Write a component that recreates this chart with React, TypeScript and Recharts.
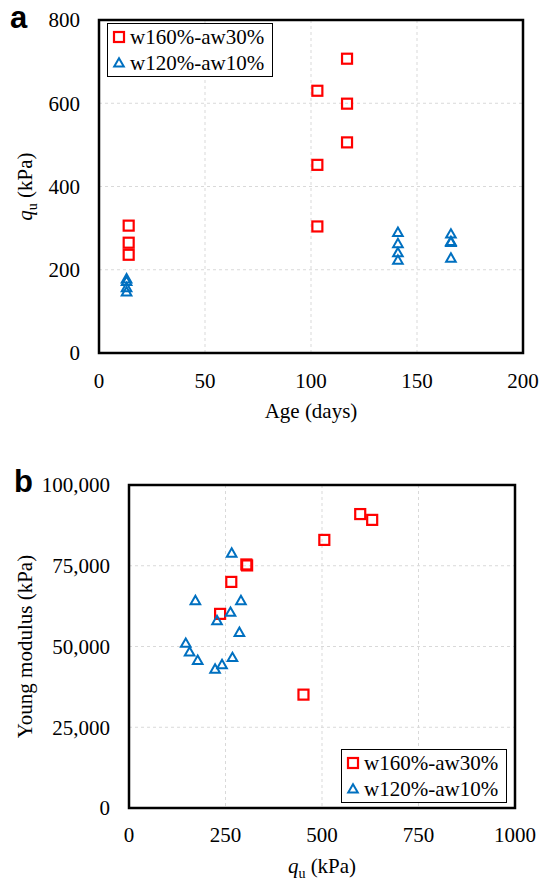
import { ScatterChart, Scatter, XAxis, YAxis, CartesianGrid, ReferenceArea, Legend, Label } from 'recharts';

const RED = '#ff0000';
const BLUE = '#0070c0';
const FONT = '"Liberation Serif", "Times New Roman", Times, serif';
const serif = { fontFamily: FONT };

// (a) curing age vs unconfined compressive strength
const ageA160 = [14, 14, 14, 103, 103, 103, 117, 117, 117];
const quA160 = [306, 265, 236, 630, 452, 304, 707, 599, 506];
const ageA120 = [13, 13, 13, 13, 141, 141, 141, 141, 166, 166, 166, 166];
const quA120 = [178, 172, 157, 147, 290, 263, 241, 223, 286, 268, 266, 228];

const ageTicks = [0, 50, 100, 150, 200];
const quTicksA = [0, 200, 400, 600, 800];

// (b) q_u vs Young modulus
const quB160 = [599, 630, 506, 306, 304, 265, 236, 452];
const eB160 = [91000, 89200, 83000, 75100, 75400, 70000, 60100, 35100];
const quB120 = [266, 172, 290, 263, 228, 286, 147, 157, 178, 223, 241, 268];
const eB120 = [78900, 64200, 64200, 60600, 58000, 54400, 51000, 48300, 45700, 43000, 44400, 46600];

const quTicksB = [0, 250, 500, 750, 1000];
const eTicks = [0, 25000, 50000, 75000, 100000];

const seriesNames = ['w160%-aw30%', 'w120%-aw10%'];

const toPoints = (xs: number[], ys: number[]) => xs.map((x, i) => ({ x, y: ys[i] }));

const XTick = (props: any) => (
  <text className="serif-text" x={props.x} y={props.y} dy="0.71em" textAnchor="middle" fill="#000" fontSize={21} style={serif}>
    {String(props.payload.value)}
  </text>
);

// modulus ticks use thousands separators
const YTick = (props: any) => (
  <text className="serif-text" x={props.x} y={props.y} dy="0.355em" textAnchor="end" fill="#000" fontSize={21} style={serif}>
    {props.payload.value.toLocaleString('en-US')}
  </text>
);

const Square = (props: any) => {
  const { cx, cy } = props;
  return <rect x={cx - 5} y={cy - 5} width={10} height={10} fill="none" stroke={RED} strokeWidth={2.2} />;
};

const Triangle = (props: any) => {
  const { cx, cy } = props;
  return (
    <polygon
      points={`${cx},${cy - 4.8} ${cx + 4.8},${cy + 3.6} ${cx - 4.8},${cy + 3.6}`}
      fill="none"
      stroke={BLUE}
      strokeWidth={2}
    />
  );
};

const BoxLegend = () => (
  <div style={{ border: '1px solid #000', background: '#fff', fontFamily: FONT, fontSize: 21, color: '#000', paddingRight: 8 }}>
    {seriesNames.map((name, i) => (
      <div key={name} style={{ display: 'flex', alignItems: 'center', height: 26 }}>
        <svg width={22} height={26} style={{ display: 'block' }}>
          {i === 0 ? <Square cx={11} cy={13} /> : <Triangle cx={11} cy={13} />}
        </svg>
        <span style={{ lineHeight: '26px', whiteSpace: 'nowrap' }}>{name}</span>
      </div>
    ))}
  </div>
);

// axis titles; the q_u one gets an italic q and a subscript u
const QuText = () => (
  <>
    <tspan fontStyle="italic">q</tspan>
    <tspan fontSize={14} dy={5}>u</tspan>
    <tspan dy={-5}> (kPa)</tspan>
  </>
);

const xTitle = (children: any, below: number) => (props: any) => {
  const vb = props.viewBox || {};
  return (
    <text className="serif-text" x={vb.x + vb.width / 2} y={vb.y + below + 7} textAnchor="middle" fill="#000" fontSize={21} style={serif}>
      {children}
    </text>
  );
};

const yTitle = (children: any, cx: number) => (props: any) => {
  const vb = props.viewBox || {};
  const cy = vb.y + vb.height / 2;
  return (
    <text className="serif-text" transform={`translate(${cx},${cy}) rotate(-90)`} x={0} y={7} textAnchor="middle" fill="#000" fontSize={21} style={serif}>
      {children}
    </text>
  );
};

const AgeChart = () => (
  <ScatterChart width={540} height={440} margin={{ top: 20, right: 17, left: 0, bottom: 0 }} style={serif}>
    <CartesianGrid stroke="#d9d9d9" strokeDasharray="3 3" />
    <XAxis
      type="number"
      dataKey="x"
      domain={[0, 200]}
      ticks={ageTicks}
      interval={0}
      axisLine={false}
      tickLine={false}
      tickSize={0}
      tickMargin={20}
      height={87}
      tick={XTick}
    >
      <Label content={xTitle('Age (days)', 58)} />
    </XAxis>
    <YAxis
      type="number"
      dataKey="y"
      domain={[0, 800]}
      ticks={quTicksA}
      interval={0}
      axisLine={false}
      tickLine={false}
      tickSize={0}
      tickMargin={19}
      width={99}
      tick={YTick}
    >
      <Label content={yTitle(<QuText />, 25)} />
    </YAxis>
    <ReferenceArea x1={0} x2={200} y1={0} y2={800} fill="none" stroke="#000" strokeWidth={2.5} ifOverflow="visible" />
    <Scatter name={seriesNames[0]} data={toPoints(ageA160, quA160)} shape={Square} isAnimationActive={false} />
    <Scatter name={seriesNames[1]} data={toPoints(ageA120, quA120)} shape={Triangle} isAnimationActive={false} />
    <Legend
      layout="horizontal"
      verticalAlign="middle"
      align="center"
      content={BoxLegend}
      wrapperStyle={{ left: 107, top: 23, width: 'auto' }}
    />
  </ScatterChart>
);

const ModulusChart = () => (
  <ScatterChart width={540} height={423} margin={{ top: 25, right: 25, left: 0, bottom: 0 }} style={serif}>
    <CartesianGrid stroke="#d9d9d9" strokeDasharray="3 3" />
    <XAxis
      type="number"
      dataKey="x"
      domain={[0, 1000]}
      ticks={quTicksB}
      interval={0}
      axisLine={false}
      tickLine={false}
      tickSize={0}
      tickMargin={19}
      height={75}
      tick={XTick}
    >
      <Label content={xTitle(<QuText />, 58)} />
    </XAxis>
    <YAxis
      type="number"
      dataKey="y"
      domain={[0, 100000]}
      ticks={eTicks}
      interval={0}
      axisLine={false}
      tickLine={false}
      tickSize={0}
      tickMargin={19}
      width={129}
      tick={YTick}
    >
      <Label content={yTitle('Young modulus (kPa)', 25)} />
    </YAxis>
    <ReferenceArea x1={0} x2={1000} y1={0} y2={100000} fill="none" stroke="#000" strokeWidth={2.5} ifOverflow="visible" />
    <Scatter name={seriesNames[0]} data={toPoints(quB160, eB160)} shape={Square} isAnimationActive={false} />
    <Scatter name={seriesNames[1]} data={toPoints(quB120, eB120)} shape={Triangle} isAnimationActive={false} />
    <Legend
      layout="horizontal"
      verticalAlign="middle"
      align="center"
      content={BoxLegend}
      wrapperStyle={{ left: 341, top: 289, width: 'auto' }}
    />
  </ScatterChart>
);

export default function App() {
  return (
    <div style={{ position: 'absolute', left: 0, top: 0, width: 540, height: 883, background: '#fff', fontFamily: FONT }}>
      <style>{`.serif-text, .serif-text tspan { font-family: "Liberation Serif", "Times New Roman", serif !important; }`}</style>
      <div style={{ position: 'absolute', left: 0, top: 0 }}>
        <AgeChart />
      </div>
      <div style={{ position: 'absolute', left: 0, top: 460 }}>
        <ModulusChart />
      </div>
      <svg width={540} height={883} style={{ position: 'absolute', left: 0, top: 0, pointerEvents: 'none' }}>
        <text x={10} y={28} fontWeight="bold" fontSize={31} fill="#000" style={{ fontFamily: '"Liberation Sans", Arial, sans-serif' }}>a</text>
        <text x={14} y={492} fontWeight="bold" fontSize={31} fill="#000" style={{ fontFamily: '"Liberation Sans", Arial, sans-serif' }}>b</text>
      </svg>
    </div>
  );
}
